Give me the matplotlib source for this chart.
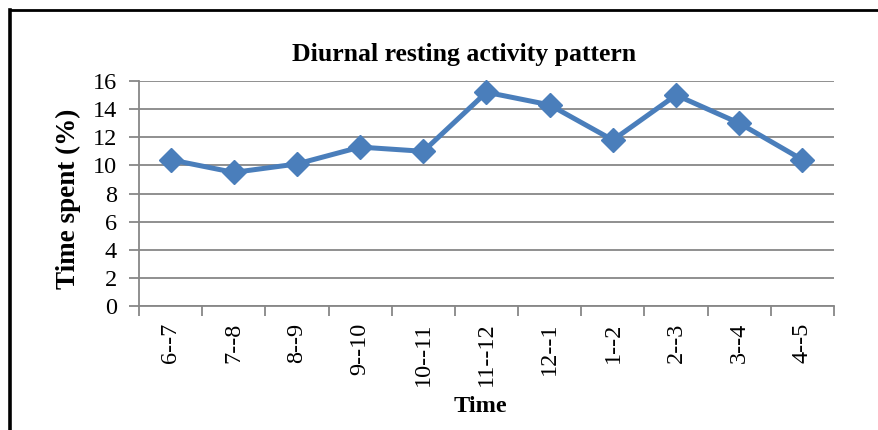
import matplotlib
matplotlib.use("Agg")
import matplotlib.pyplot as plt
from matplotlib.lines import Line2D
import numpy as np

categories = ["6--7", "7--8", "8--9", "9--10", "10--11", "11--12",
              "12--1", "1--2", "2--3", "3--4", "4--5"]
values = [10.4, 9.5, 10.1, 11.3, 11.0, 15.2, 14.3, 11.8, 15.0, 13.0, 10.4]
y_ticks = [0, 2, 4, 6, 8, 10, 12, 14, 16]

plt.rcParams['font.family'] = ['Liberation Serif', 'DejaVu Serif']

W, H = 879, 430
fig = plt.figure(figsize=(W / 100, H / 100), dpi=100)

# outer frame (left and top edges only visible)
fig.add_artist(Line2D([10 / W, 10 / W], [-0.02, 1 - 10 / H],
                      transform=fig.transFigure, color='black', linewidth=2.6,
                      solid_capstyle='projecting'))
fig.add_artist(Line2D([10 / W, 1.02], [1 - 10 / H, 1 - 10 / H],
                      transform=fig.transFigure, color='black', linewidth=2.0,
                      solid_capstyle='projecting'))

ax = fig.add_axes([139 / W, 1 - 306 / H, (834 - 139) / W, (306 - 81) / H])

x = np.arange(len(categories))
ax.plot(x, values, color='#4A7EBB', linewidth=3.6, marker='D',
        markersize=12, zorder=3, clip_on=False)

ax.set_xlim(-0.5, len(categories) - 0.5)
ax.set_ylim(0, 16)
ax.set_yticks(y_ticks)
ax.set_yticklabels([str(v) for v in y_ticks], fontsize=17.5)

ax.set_xticks(x)
ax.set_xticklabels(categories, rotation=90, fontsize=17.5, va='top')
ax.set_xticks(np.arange(-0.5, len(categories), 1.0), minor=True)
ax.tick_params(axis='x', which='major', length=0, pad=12)
ax.tick_params(axis='x', which='minor', length=7, width=1.3, color='#878787')
ax.tick_params(axis='y', length=7, width=1.3, color='#878787', pad=9)

ax.grid(axis='y', color='#878787', linewidth=1.3)
ax.set_axisbelow(True)
for s in ['top', 'right']:
    ax.spines[s].set_visible(False)
for s in ['left', 'bottom']:
    ax.spines[s].set_color('#878787')
    ax.spines[s].set_linewidth(1.3)

fig.text(464 / W, 1 - 54 / H, "Diurnal resting activity pattern",
         ha='center', va='center', fontsize=18.5, fontweight='bold')
fig.text(480 / W, 1 - 406 / H, "Time", ha='center', va='center',
         fontsize=17.5, fontweight='bold')
fig.text(68 / W, 1 - 199 / H, "Time spent (%)", ha='center', va='center',
         rotation=90, fontsize=19.5, fontweight='bold')

fig.savefig("out.png", dpi=100)
